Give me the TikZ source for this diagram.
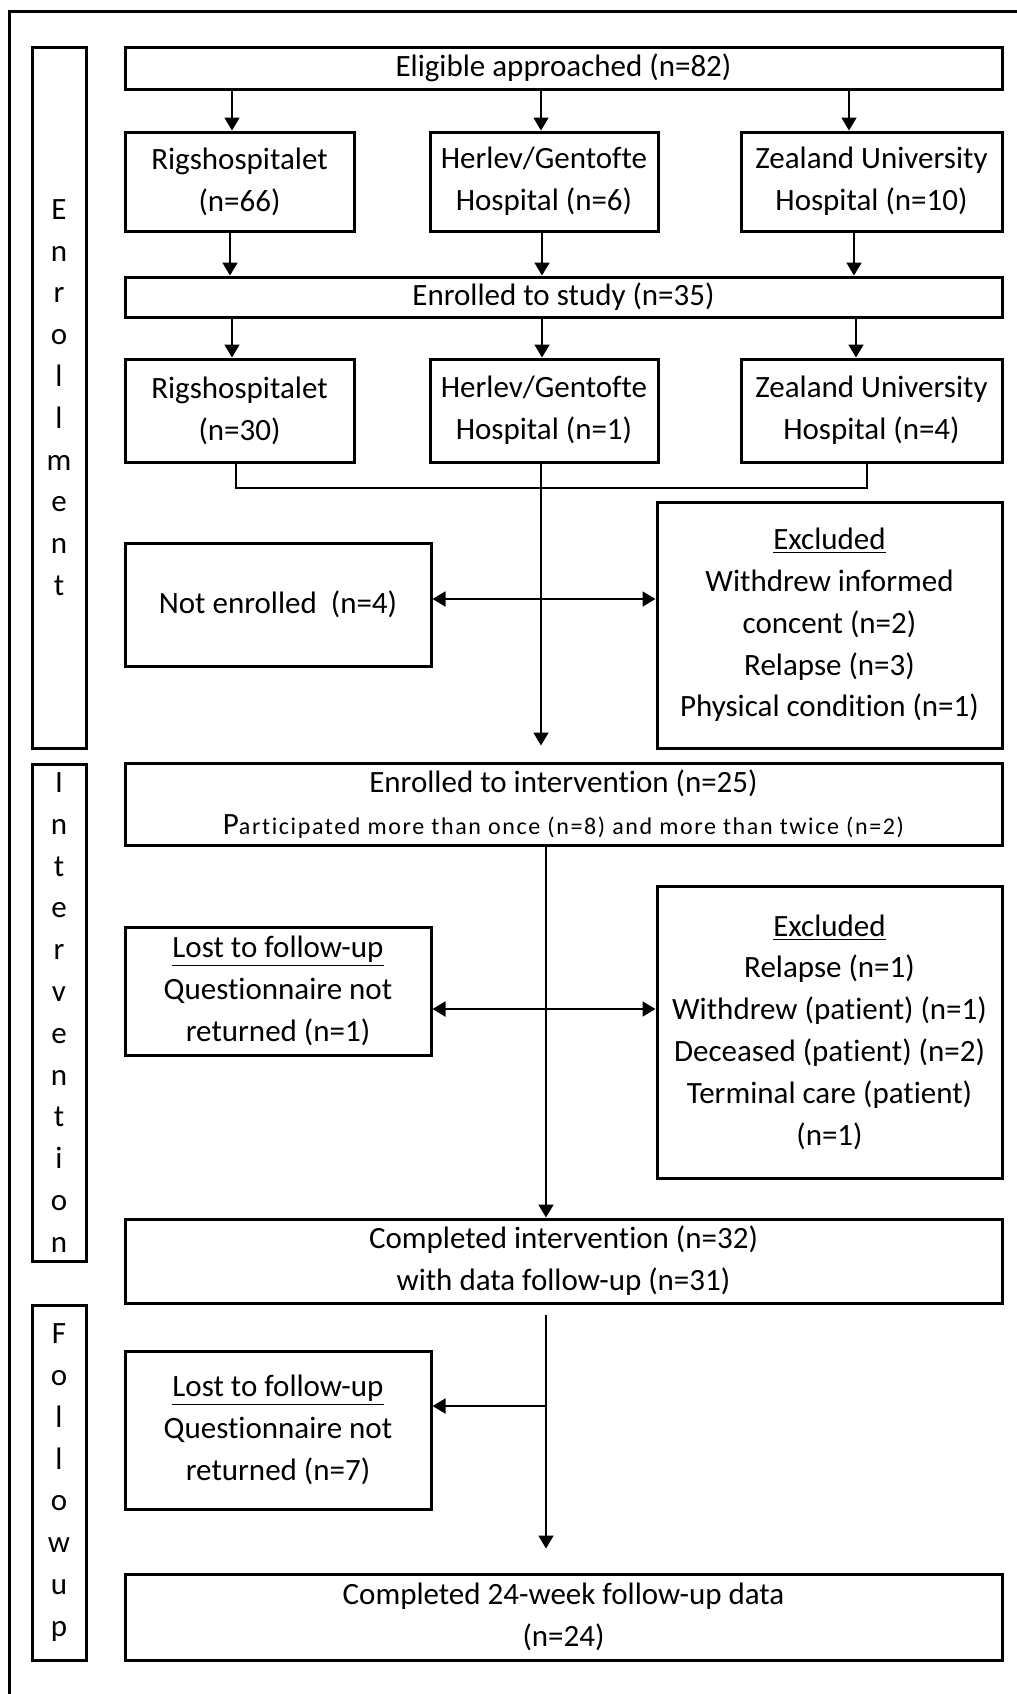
\documentclass[tikz,border=0pt]{standalone}
\usepackage{fontspec}
\setmainfont{Carlito}[Ligatures=NoCommon]
\usetikzlibrary{arrows.meta}
\newcommand\flowbox[6]{\node[box, minimum width={(#4-#2)*0.5pt}, minimum height={(#5-#3)*0.5pt}] (#1) at ({(#2+#4)/2},{(#3+#5)/2}) {#6};}
\begin{document}
\begin{tikzpicture}[x=0.5pt,y=-0.5pt,
  box/.style={draw, line width=1.5pt, inner sep=0pt, align=center, font=\fontsize{15.5}{20.9}\selectfont},
  arr/.style={line width=0.9pt, -{Triangle[length=6.5pt,width=7.5pt]}},
  ln/.style={line width=0.9pt}]
\useasboundingbox (0,0) rectangle (1017,1694);
\draw[line width=1.5pt] (9,1694) -- (9,11) -- (1017,11);
% side labels
\flowbox{enrS}{32}{47}{86}{748}{E\\n\\r\\o\\l\\l\\m\\e\\n\\t}
\flowbox{intS}{32}{764}{86}{1261}{I\\n\\t\\e\\r\\v\\e\\n\\t\\i\\o\\n}
\flowbox{fupS}{32}{1305}{86}{1660}{F\\o\\l\\l\\o\\w\\u\\p}
% boxes
\flowbox{elig}{125}{47}{1002}{89}{Eligible approached (n=82)}
\flowbox{ra}{125}{132}{354}{231}{Rigshospitalet\\(n=66)}
\flowbox{ha}{430}{132}{658}{231}{Herlev/Gentofte\\Hospital (n=6)}
\flowbox{za}{741}{132}{1002}{231}{Zealand University\\Hospital (n=10)}
\flowbox{enr}{125}{277}{1002}{317}{Enrolled to study (n=35)}
\flowbox{rb}{125}{359}{354}{462}{Rigshospitalet\\(n=30)}
\flowbox{hb}{430}{359}{658}{462}{Herlev/Gentofte\\Hospital (n=1)}
\flowbox{zb}{741}{359}{1002}{462}{Zealand University\\Hospital (n=4)}
\flowbox{noten}{125}{543}{431}{666}{Not enrolled\ \ (n=4)}
\flowbox{exa}{657}{502}{1002}{748}{\underline{Excluded}\\Withdrew informed\\concent (n=2)\\Relapse (n=3)\\Physical condition (n=1)}
\flowbox{eint}{125}{763}{1002}{845}{Enrolled to intervention (n=25)\\{\fontsize{12}{14}\selectfont\addfontfeature{LetterSpace=6.8}{\fontsize{15.5}{15}\selectfont P}articipated more than once (n=8) and more than twice (n=2)}}
\flowbox{lfa}{125}{927}{431}{1055}{\underline{Lost to follow-up}\\Questionnaire not\\returned (n=1)}
\flowbox{exb}{657}{886}{1002}{1178}{\underline{Excluded}\\Relapse (n=1)\\Withdrew (patient) (n=1)\\Deceased (patient) (n=2)\\Terminal care (patient)\\(n=1)}
\flowbox{cint}{125}{1219}{1002}{1303}{Completed intervention (n=32)\\with data follow-up (n=31)}
\flowbox{lfb}{125}{1351}{431}{1509}{\underline{Lost to follow-up}\\Questionnaire not\\returned (n=7)}
\flowbox{cfu}{125}{1574}{1002}{1660}{Completed 24-week follow-up data\\(n=24)}
% arrows eligible -> row 1
\foreach \x/\n in {232/ra,541/ha,849/za}{
  \coordinate (t) at (\x,0);
  \draw[arr] (t |- elig.south) -- (t |- \n.north);}
\foreach \x/\n in {230/ra,542/ha,854/za}{
  \coordinate (t) at (\x,0);
  \draw[arr] (t |- \n.south) -- (t |- enr.north);}
\foreach \x/\n in {232/rb,542/hb,856/zb}{
  \coordinate (t) at (\x,0);
  \draw[arr] (t |- enr.south) -- (t |- \n.north);}
% bracket
\coordinate (bl) at (236,488);
\coordinate (br) at (867,488);
\draw[ln] (bl |- rb.south) -- (bl) -- (br) -- (br |- zb.south);
% main line enrollment
\coordinate (m1) at (541,0);
\draw[arr, shorten >=8pt] (m1 |- hb.south) -- (m1 |- eint.north);
\coordinate (h1) at (541,599);
\draw[arr] (h1) -- (h1 -| noten.east);
\draw[arr] (h1) -- (h1 -| exa.west);
% intervention
\coordinate (m2) at (546,0);
\draw[arr] (m2 |- eint.south) -- (m2 |- cint.north);
\coordinate (h2) at (546,1009);
\draw[arr] (h2) -- (h2 -| lfa.east);
\draw[arr] (h2) -- (h2 -| exb.west);
% follow-up
\coordinate (m3) at (546,0);
\draw[arr, shorten <=5pt, shorten >=12pt] (m3 |- cint.south) -- (m3 |- cfu.north);
\coordinate (h3) at (546,1406);
\draw[arr] (h3) -- (h3 -| lfb.east);
\end{tikzpicture}
\end{document}
